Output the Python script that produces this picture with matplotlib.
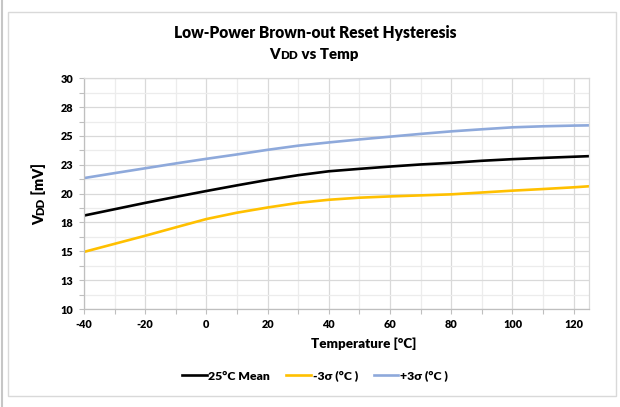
import matplotlib
matplotlib.use("Agg")
import matplotlib.pyplot as plt
from matplotlib.patches import Rectangle
from matplotlib.lines import Line2D
from matplotlib.ticker import MultipleLocator, FixedLocator, FixedFormatter

temps = [-40, -30, -20, -10, 0, 10, 20, 30, 40, 50, 60, 70, 80, 90, 100, 110, 120, 125]
mean_25c = [18.1, 18.65, 19.2, 19.72, 20.23, 20.72, 21.19, 21.6, 21.94, 22.15, 22.35,
            22.53, 22.67, 22.85, 22.99, 23.1, 23.2, 23.25]
minus_3sigma = [14.95, 15.65, 16.35, 17.08, 17.8, 18.35, 18.8, 19.2, 19.47, 19.65, 19.76,
                19.85, 19.94, 20.1, 20.26, 20.4, 20.55, 20.64]
plus_3sigma = [21.35, 21.78, 22.2, 22.62, 23.02, 23.4, 23.8, 24.16, 24.44, 24.7, 24.94,
               25.18, 25.4, 25.58, 25.75, 25.84, 25.9, 25.92]
series_names = ["25°C Mean", "-3σ (°C )", "+3σ (°C )"]
y_ticks = [10, 12.5, 15, 17.5, 20, 22.5, 25, 27.5, 30]
y_tick_labels = ["10", "13", "15", "18", "20", "23", "25", "28", "30"]
x_ticks = [-40, -20, 0, 20, 40, 60, 80, 100, 120]

FONT = ["Lato", "DejaVu Sans"]
plt.rcParams['font.family'] = FONT
plt.rcParams['axes.unicode_minus'] = False

W, H = 620, 407
fig = plt.figure(figsize=(W / 100, H / 100), dpi=100)

def fx(px):
    return px / W

def fy(py):
    return 1 - py / H

# outer chart border and left screen edge
fig.patches.append(Rectangle((fx(8), fy(396)), fx(616) - fx(8), fy(12) - fy(396),
                             transform=fig.transFigure, fill=False,
                             edgecolor="#d9d9d9", linewidth=1))
fig.lines.append(Line2D([fx(1.5), fx(1.5)], [0, 1], transform=fig.transFigure,
                        color="#c6c6c6", linewidth=1.5))

left, right, top, bottom = 84, 589, 78.3, 309
ax = fig.add_axes([fx(left), fy(bottom), fx(right) - fx(left), fy(top) - fy(bottom)])

ax.plot(temps, mean_25c, color="#000000", lw=1.9, label=series_names[0])
ax.plot(temps, minus_3sigma, color="#FFC000", lw=1.9, label=series_names[1])
ax.plot(temps, plus_3sigma, color="#8EA9DB", lw=1.9, label=series_names[2])

ax.set_xlim(-40, 125)
ax.set_ylim(10, 30)
ax.xaxis.set_major_locator(FixedLocator(x_ticks))
ax.xaxis.set_minor_locator(MultipleLocator(10))
ax.yaxis.set_major_locator(FixedLocator(y_ticks))
ax.yaxis.set_major_formatter(FixedFormatter(y_tick_labels))
ax.yaxis.set_minor_locator(MultipleLocator(1.25))

ax.grid(True, which="major", color="#d9d9d9", lw=0.9)
ax.grid(True, which="minor", color="#ececec", lw=0.9)
ax.set_axisbelow(True)

for s in ["top", "right"]:
    ax.spines[s].set_color("#d9d9d9")
    ax.spines[s].set_linewidth(0.9)
for s in ["left", "bottom"]:
    ax.spines[s].set_color("#bfbfbf")
    ax.spines[s].set_linewidth(0.9)

ax.tick_params(which="both", direction="out", color="#bfbfbf", length=3.5, width=0.8)
ax.tick_params(which="major", labelsize=7.8, pad=4)
for lab in ax.get_xticklabels() + ax.get_yticklabels():
    lab.set_fontweight("heavy")

ax.set_xlabel("Temperature [°C]", fontsize=9.6, fontweight="heavy", labelpad=7)
ax.xaxis.set_label_coords((364 - left) / (right - left), -0.125)

leg = ax.legend(loc="center", bbox_to_anchor=(fx(315), fy(376)),
                bbox_transform=fig.transFigure, ncol=3, frameon=False,
                handlelength=2.0, handletextpad=0.15, columnspacing=1.3,
                prop={"weight": "heavy", "size": 8.8, "family": FONT})

# Title with small caps "DD"
fig.text(fx(315), fy(33), "Low-Power Brown-out Reset Hysteresis", ha="center", va="center",
         fontsize=11.2, fontweight="heavy")

renderer = fig.canvas.get_renderer()

def smallcaps_line(xc, yc, parts, rotation=0):
    texts = []
    widths = []
    for t, sz in parts:
        tt = fig.text(0, 0, t, fontsize=sz, fontweight="heavy", rotation=rotation,
                      ha="left", va="baseline", rotation_mode="anchor")
        bb = tt.get_window_extent(renderer)
        widths.append(bb.width if rotation == 0 else bb.height)
        texts.append(tt)
    total = sum(widths)
    if rotation == 0:
        x = xc - total / 2
        for tt, w in zip(texts, widths):
            tt.set_position((fx(x), fy(yc)))
            x += w
    else:
        y = yc + total / 2
        for tt, w in zip(texts, widths):
            tt.set_position((fx(xc), fy(y)))
            y -= w

smallcaps_line(314, 59, [("V", 10.8), ("DD", 8.4), (" vs Temp", 10.8)])
smallcaps_line(44, 194, [("V", 10.4), ("DD", 8.2), (" [mV]", 10.4)], rotation=90)

fig.savefig("out.png", dpi=100, facecolor="white")
